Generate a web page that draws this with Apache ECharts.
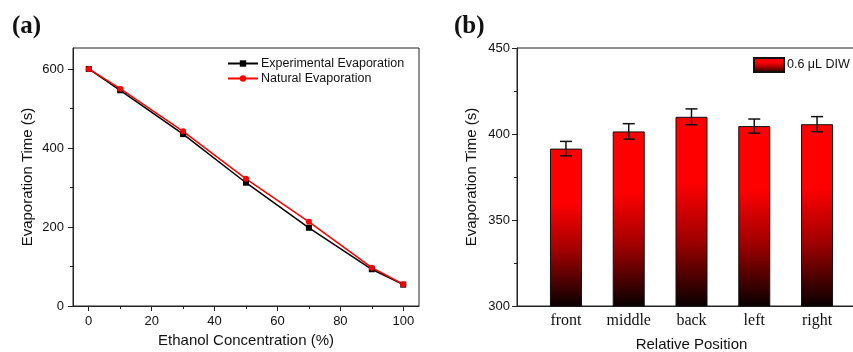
<!DOCTYPE html>
<html>
<head>
<meta charset="utf-8">
<script src="https://cdn.jsdelivr.net/npm/echarts@6/dist/echarts.min.js"></script>
<style>
  html, body { margin: 0; padding: 0; background: #fff; }
  #chart { width: 853px; height: 352px; }
</style>
</head>
<body>
<div id="chart"></div>
<script>
// panel (a)
const concentration = [0, 10, 30, 50, 70, 90, 100];
const experimental = [600, 546, 435, 312, 198, 93, 54];
const natural = [600, 550, 442, 322, 213, 97, 55];
const xMajor = [0, 20, 40, 60, 80, 100];
const xMinor = [10, 30, 50, 70, 90];
const yMajorA = [0, 200, 400, 600];
const yMinorA = [100, 300, 500];

// panel (b)
const positions = ["front", "middle", "back", "left", "right"];
const positionIndex = [1, 2, 3, 4, 5];
const evapTime = [391.5, 401.5, 410, 404.6, 405.7];
const evapErr = [4.2, 4.5, 4.6, 4.1, 4.4];

const sans = "Liberation Sans, Arial, sans-serif";
const serif = "Liberation Serif, Times New Roman, serif";
const axisColor = "#222";

const barFill = new echarts.graphic.LinearGradient(0, 0, 0, 1, [
  { offset: 0, color: "#ff0000" },
  { offset: 0.35, color: "#ff0000" },
  { offset: 0.65, color: "#a00000" },
  { offset: 1, color: "#080000" },
]);

const chart = echarts.init(document.getElementById("chart"));

const tickLabel = { color: "#111", fontFamily: sans, fontSize: 13 };
const axisName = { color: "#111", fontFamily: sans, fontSize: 15 };
const panelLabel = { fontFamily: serif, fontWeight: "bold", fontSize: 25, color: "#111" };

chart.setOption({
  animation: false,
  title: [
    { text: "(a)", left: 7, top: 9, textStyle: panelLabel },
    { text: "(b)", left: 449, top: 9, textStyle: panelLabel },
  ],
  legend: [
    {
      left: 222,
      top: 52,
      orient: "vertical",
      itemWidth: 30,
      itemHeight: 8,
      itemGap: 2,
      textStyle: { fontFamily: sans, fontSize: 12.5, color: "#111", padding: [0, 0, 0, -2] },
      data: ["Experimental Evaporation", "Natural Evaporation"],
    },
    {
      left: 748,
      top: 52,
      itemWidth: 30,
      itemHeight: 14,
      icon: "rect",
      textStyle: { fontFamily: sans, fontSize: 12.5, color: "#111", padding: [0, 0, 0, -2] },
      data: ["0.6 μL DIW"],
    },
  ],
  grid: [
    { left: 73, top: 48, width: 346, height: 258, outerBoundsMode: "none", show: true, borderColor: axisColor, borderWidth: 1 },
    { left: 517, top: 48, width: 349, height: 258, outerBoundsMode: "none", show: true, borderColor: axisColor, borderWidth: 1 },
  ],
  xAxis: [
    {
      gridIndex: 0,
      type: "value",
      min: -5,
      max: 105,
      position: "bottom",
      name: "Ethanol Concentration (%)",
      nameLocation: "middle",
      nameGap: 27,
      nameTextStyle: axisName,
      axisLine: { onZero: false, lineStyle: { color: axisColor } },
      axisTick: { length: 5, customValues: xMajor, lineStyle: { color: axisColor } },
      axisLabel: { ...tickLabel, margin: 9, customValues: xMajor },
      splitLine: { show: false },
    },
    {
      gridIndex: 0,
      type: "value",
      min: -5,
      max: 105,
      position: "bottom",
      axisLine: { show: false, onZero: false },
      axisTick: { length: 3, customValues: xMinor, lineStyle: { color: axisColor } },
      axisLabel: { show: false },
      splitLine: { show: false },
    },
    {
      gridIndex: 1,
      type: "value",
      min: 0.22,
      max: 5.78,
      name: "Relative Position",
      nameLocation: "middle",
      nameGap: 31,
      nameTextStyle: axisName,
      axisLine: { onZero: false, lineStyle: { color: axisColor } },
      axisTick: { show: false },
      axisLabel: {
        customValues: positionIndex,
        formatter: (v) => positions[Math.round(v) - 1] || "",
        fontFamily: serif,
        fontSize: 16,
        color: "#111",
        margin: 7,
      },
      splitLine: { show: false },
    },
  ],
  yAxis: [
    {
      gridIndex: 0,
      type: "value",
      min: 0,
      max: 653,
      position: "left",
      name: "Evaporation Time (s)",
      nameLocation: "middle",
      nameGap: 38,
      nameTextStyle: axisName,
      axisLine: { show: true, onZero: false, lineStyle: { color: axisColor } },
      axisTick: { show: true, length: 5, customValues: yMajorA, lineStyle: { color: axisColor } },
      axisLabel: { ...tickLabel, margin: 9, customValues: yMajorA },
      splitLine: { show: false },
    },
    {
      gridIndex: 0,
      type: "value",
      min: 0,
      max: 653,
      position: "left",
      axisLine: { show: false, onZero: false },
      axisTick: { show: true, length: 3, customValues: yMinorA, lineStyle: { color: axisColor } },
      axisLabel: { show: false },
      splitLine: { show: false },
    },
    {
      gridIndex: 1,
      type: "value",
      min: 300,
      max: 450,
      interval: 50,
      name: "Evaporation Time (s)",
      nameLocation: "middle",
      nameGap: 38,
      nameTextStyle: axisName,
      axisLine: { show: true, onZero: false, lineStyle: { color: axisColor } },
      axisTick: { show: true, length: 5, lineStyle: { color: axisColor } },
      minorTick: { show: true, splitNumber: 2, length: 3, lineStyle: { color: axisColor } },
      axisLabel: { ...tickLabel, margin: 7 },
      splitLine: { show: false },
    },
  ],
  series: [
    {
      name: "Experimental Evaporation",
      type: "line",
      xAxisIndex: 0,
      yAxisIndex: 0,
      data: concentration.map((c, i) => [c, experimental[i]]),
      symbol: "rect",
      symbolSize: 6,
      color: "#000",
      lineStyle: { width: 1.5, color: "#000" },
      itemStyle: { color: "#000" },
    },
    {
      name: "Natural Evaporation",
      type: "line",
      xAxisIndex: 0,
      yAxisIndex: 0,
      data: concentration.map((c, i) => [c, natural[i]]),
      symbol: "circle",
      symbolSize: 6,
      color: "#ff0000",
      lineStyle: { width: 1.5, color: "#ff0000" },
      itemStyle: { color: "#ff0000" },
    },
    {
      name: "0.6 μL DIW",
      type: "bar",
      xAxisIndex: 2,
      yAxisIndex: 2,
      barWidth: 32,
      data: positionIndex.map((p, i) => [p, evapTime[i]]),
      itemStyle: { color: barFill, borderColor: "#111", borderWidth: 1 },
    },
    {
      type: "custom",
      xAxisIndex: 2,
      yAxisIndex: 2,
      data: positionIndex.map((p, i) => [p, evapTime[i] - evapErr[i], evapTime[i] + evapErr[i]]),
      z: 5,
      renderItem: (params, api) => {
        const lo = api.coord([api.value(0), api.value(1)]);
        const hi = api.coord([api.value(0), api.value(2)]);
        const w = 6;
        const style = { stroke: "#111", lineWidth: 1.5 };
        return {
          type: "group",
          children: [
            { type: "line", shape: { x1: lo[0], y1: lo[1], x2: hi[0], y2: hi[1] }, style },
            { type: "line", shape: { x1: lo[0] - w, y1: lo[1], x2: lo[0] + w, y2: lo[1] }, style },
            { type: "line", shape: { x1: hi[0] - w, y1: hi[1], x2: hi[0] + w, y2: hi[1] }, style },
          ],
        };
      },
    },
  ],
});
</script>
</body>
</html>
